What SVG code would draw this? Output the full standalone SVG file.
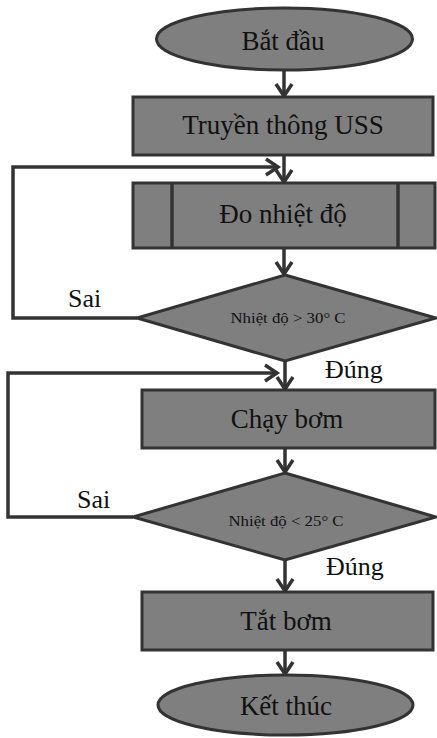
<svg xmlns="http://www.w3.org/2000/svg" width="437" height="738" viewBox="0 0 437 738">
<defs>
<style>
.shape{fill:#7f7f7f;stroke:#333;stroke-width:3}
.line{fill:none;stroke:#333;stroke-width:3.5}
.t{font-family:"Liberation Serif","Times New Roman",serif;font-size:27px;fill:#111;text-anchor:middle}
.s{font-family:"Liberation Serif","Times New Roman",serif;font-size:15px;fill:#111;text-anchor:middle}
.lbl{font-family:"Liberation Serif","Times New Roman",serif;font-size:26px;fill:#111}
</style>
<marker id="arr" markerUnits="userSpaceOnUse" markerWidth="20" markerHeight="20" viewBox="0 0 20 20" refX="16" refY="10" orient="auto">
<polyline points="4,2 16,10 4,18" fill="none" stroke="#333" stroke-width="3.5"/>
</marker>
</defs>
<rect width="437" height="738" fill="#fff"/>
<g id="connectors">
<line class="line" x1="284" y1="70" x2="284" y2="96" marker-end="url(#arr)"/>
<line class="line" x1="284" y1="155" x2="284" y2="182" marker-end="url(#arr)"/>
<line class="line" x1="284" y1="248" x2="284" y2="274" marker-end="url(#arr)"/>
<line class="line" x1="285" y1="361" x2="285" y2="389" marker-end="url(#arr)"/>
<line class="line" x1="285" y1="448" x2="285" y2="472" marker-end="url(#arr)"/>
<line class="line" x1="285" y1="560" x2="285" y2="591" marker-end="url(#arr)"/>
<line class="line" x1="285" y1="650" x2="285" y2="674" marker-end="url(#arr)"/>
<polyline class="line" points="137,318 13,318 13,167 278,167" marker-end="url(#arr)"/>
<polyline class="line" points="133,517 8,517 8,373 277,373" marker-end="url(#arr)"/>
</g>
<g id="start">
<ellipse class="shape" cx="284.5" cy="39" rx="128" ry="31"/>
<text class="t" x="283" y="50">Bắt đầu</text>
</g>
<g id="comm">
<rect class="shape" x="133" y="97" width="300" height="58"/>
<text class="t" x="283" y="134">Truyền thông USS</text>
</g>
<g id="measure">
<rect class="shape" x="133" y="183" width="302" height="65"/>
<line class="line" x1="172" y1="183" x2="172" y2="248"/>
<line class="line" x1="398" y1="183" x2="398" y2="248"/>
<text class="t" x="283" y="223">Đo nhiệt độ</text>
</g>
<g id="dec1">
<polygon class="shape" points="285,275 436,318 285,361 137,318"/>
<text class="s" x="288" y="323" textLength="115" lengthAdjust="spacingAndGlyphs">Nhiệt độ &gt; 30° C</text>
<text class="lbl" x="68" y="307">Sai</text>
<text class="lbl" x="325" y="378">Đúng</text>
</g>
<g id="pump">
<rect class="shape" x="142" y="390" width="293" height="58"/>
<text class="t" x="287" y="428">Chạy bơm</text>
</g>
<g id="dec2">
<polygon class="shape" points="285,473 436,517 285,560 133,517"/>
<text class="s" x="286" y="526" textLength="115" lengthAdjust="spacingAndGlyphs">Nhiệt độ &lt; 25° C</text>
<text class="lbl" x="77" y="508">Sai</text>
<text class="lbl" x="326" y="575">Đúng</text>
</g>
<g id="stop">
<rect class="shape" x="142" y="592" width="291" height="58"/>
<text class="t" x="286" y="630">Tắt bơm</text>
</g>
<g id="end">
<ellipse class="shape" cx="285.5" cy="705" rx="127.5" ry="30"/>
<text class="t" x="286" y="715">Kết thúc</text>
</g>
</svg>
